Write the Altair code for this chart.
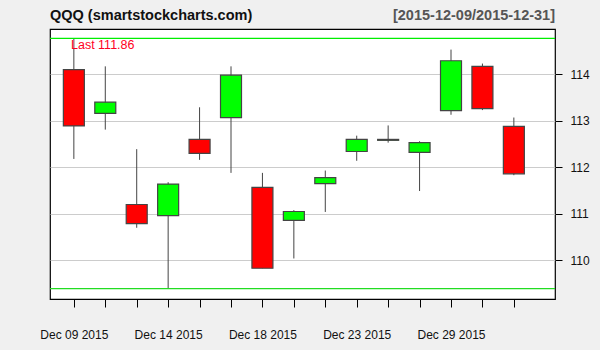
import altair as alt
import pandas as pd

# Candles (15 trading sessions)
idx = list(range(15))
opens = [114.10, 113.16, 111.20, 110.96, 112.60, 113.07, 111.57, 110.86, 111.65, 112.34, 112.58, 112.32, 113.22, 114.17, 112.88]
highs = [114.77, 114.17, 112.39, 111.68, 113.29, 114.17, 111.88, 111.08, 111.93, 112.68, 112.90, 112.56, 114.53, 114.23, 113.07]
lows = [112.18, 112.81, 110.70, 109.39, 112.16, 111.88, 109.83, 110.04, 111.04, 112.14, 112.53, 111.49, 113.13, 113.23, 111.83]
closes = [112.89, 113.40, 110.79, 111.64, 112.30, 113.98, 109.83, 111.05, 111.78, 112.60, 112.60, 112.53, 114.29, 113.26, 111.86]

tick_positions = [0, 3, 6, 9, 12]
tick_labels = ["Dec 09 2015", "Dec 14 2015", "Dec 18 2015", "Dec 23 2015", "Dec 29 2015"]
y_ticks = [110, 111, 112, 113, 114]

title_left = "QQQ (smartstockcharts.com)"
title_right = "[2015-12-09/2015-12-31]"

df = pd.DataFrame({"idx": idx, "open": opens, "high": highs, "low": lows, "close": closes})
df["dir"] = ["up" if c >= o else "down" for o, c in zip(opens, closes)]

FONT = "Liberation Sans"

label_expr = ""
for p, l in zip(tick_positions, tick_labels):
    label_expr += f"datum.value == {p} ? '{l}' : "
label_expr += "''"

xscale = alt.Scale(domain=[-0.6, 15.15], nice=False, zero=False)
xaxis = alt.Axis(values=idx, labelExpr=label_expr, grid=False, domain=False, tickSize=8,
                 tickColor="black", labelPadding=22, labelFont=FONT, labelFontSize=12,
                 labelColor="#111111", title=None, labelFlush=False, labelOverlap=False)
yscale = alt.Scale(domain=[109.169, 114.973], nice=False, zero=False)
yaxis = alt.Axis(orient="right", values=y_ticks, grid=True, gridColor="#cccccc", domain=False,
                 tickSize=7, tickColor="black", labelPadding=8, labelFont=FONT, labelFontSize=12,
                 labelColor="#111111", title=None)

base = alt.Chart(df)

wicks = base.mark_rule(color="#444444", strokeWidth=1).encode(
    x=alt.X("idx:Q", scale=xscale, axis=xaxis),
    y=alt.Y("low:Q", scale=yscale, axis=yaxis),
    y2="high:Q",
)

bodies = base.mark_bar(size=21, stroke="#444444", strokeWidth=1.2).encode(
    x=alt.X("idx:Q", scale=xscale, axis=xaxis),
    y=alt.Y("open:Q", scale=yscale, axis=yaxis),
    y2="close:Q",
    color=alt.Color("dir:N", scale=alt.Scale(domain=["up", "down"], range=["#00ff00", "#ff0000"]), legend=None),
)

hi_line = base.mark_rule(color="#00ee00", strokeWidth=1.2).encode(
    y=alt.Y("max(high):Q", scale=yscale, axis=yaxis)
)
lo_line = base.mark_rule(color="#22dd22", strokeWidth=1.2).encode(
    y=alt.Y("min(low):Q", scale=yscale, axis=yaxis)
)

last_text = alt.Chart(pd.DataFrame({"t": [f"Last {closes[-1]:.2f}"]})).mark_text(
    align="left", baseline="alphabetic", font=FONT, fontSize=12.5, color="#ff0022"
).encode(x=alt.value(21), y=alt.value(19.5), text="t:N")

t_left = alt.Chart(pd.DataFrame({"t": [title_left]})).mark_text(
    align="left", baseline="alphabetic", font=FONT, fontSize=14.5, fontWeight="bold", color="#111111"
).encode(x=alt.value(0), y=alt.value(-9), text="t:N")

t_right = alt.Chart(pd.DataFrame({"t": [title_right]})).mark_text(
    align="right", baseline="alphabetic", font=FONT, fontSize=14.5, fontWeight="bold", color="#555555"
).encode(x=alt.value(505), y=alt.value(-9), text="t:N")

chart = alt.layer(wicks, bodies, hi_line, lo_line, last_text, t_left, t_right).properties(
    width=505, height=270,
    padding={"left": 50, "top": 29, "right": 45, "bottom": 51},
    autosize=alt.AutoSizeParams(type="none"),
    background="#f0f0f0",
).configure_view(fill="white", stroke="black", strokeWidth=1.2)

chart.save("out.html", embed_options={"renderer": "svg", "actions": False})
